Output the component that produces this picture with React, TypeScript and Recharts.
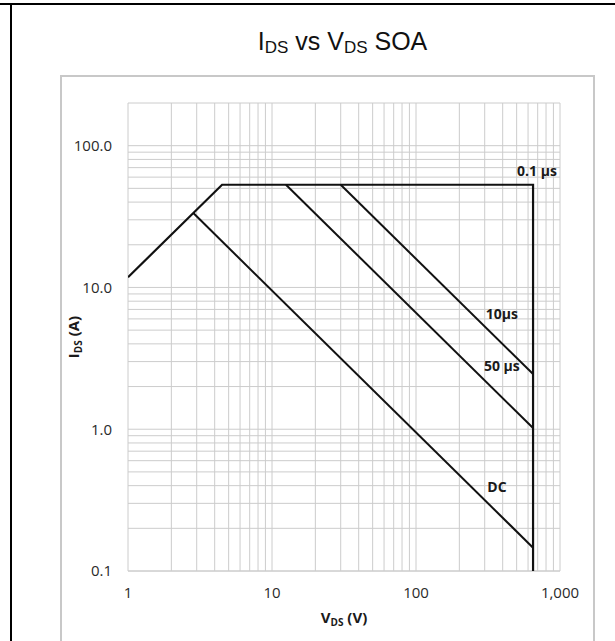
import { LineChart, Line, XAxis, YAxis, ReferenceLine, ReferenceDot, Label } from 'recharts';

// Safe operating area boundaries, (V, A) pairs on log–log axes
const limitV = [1, 4.5, 650, 650];
const limitI = [11.8, 53, 53, 0.1];
const pulse10V = [30, 650];
const pulse10I = [53, 2.45];
const pulse50V = [12.5, 650];
const pulse50I = [53, 1.02];
const dcV = [2.83, 650];
const dcI = [33.6, 0.146];

const xTicks = [1, 10, 100, 1000];
const yTicks = [0.1, 1, 10, 100];
const decadeSteps = [1, 2, 3, 4, 5, 6, 7, 8, 9];

// curve captions: text, V, A
const captions = [
  { text: '0.1 µs', v: 692, i: 66 },
  { text: '10µs', v: 395, i: 6.5 },
  { text: '50 µs', v: 395, i: 2.78 },
  { text: 'DC', v: 365, i: 0.39 },
];

const toPoints = (v: number[], i: number[]) => v.map((x, k) => ({ v: x, i: i[k] }));

const xGrid = [1, 10, 100].flatMap((d) => decadeSteps.map((s) => s * d));
const yGrid = [0.1, 1, 10].flatMap((d) => decadeSteps.map((s) => +(s * d).toFixed(2))).concat([100]);

const tickFont = { fill: '#2a2a2a', fontSize: 15, fontFamily: 'Open Sans' };
const gridColor = '#cccccc';
const curveColor = '#111';

function XTitle({ viewBox }: any) {
  const cx = viewBox.x + viewBox.width / 2;
  return (
    <text x={cx} y={623} textAnchor="middle" fontFamily="Open Sans" fontWeight="bold" fontSize={15} fill="#1a1a1a">
      V<tspan fontSize={10} dy={3}>DS</tspan>
      <tspan dy={-3}> (V)</tspan>
    </text>
  );
}

function YTitle({ viewBox }: any) {
  const cy = viewBox.y + viewBox.height / 2;
  return (
    <text
      x={79}
      y={cy}
      transform={`rotate(-90, 79, ${cy})`}
      textAnchor="middle"
      fontFamily="Open Sans"
      fontWeight="bold"
      fontSize={15}
      fill="#1a1a1a"
    >
      I<tspan fontSize={10} dy={3}>DS</tspan>
      <tspan dy={-3}> (A)</tspan>
    </text>
  );
}

export default function App() {
  return (
    <div style={{ position: 'absolute', left: 0, top: 0, width: 615, height: 641, background: '#fff', overflow: 'hidden' }}>
      {/* outer rules */}
      <div style={{ position: 'absolute', left: 0, top: 3, width: 615, height: 2, background: '#000' }} />
      <div style={{ position: 'absolute', left: 10, top: 3, width: 2, height: 638, background: '#000' }} />
      {/* plot frame */}
      <div
        style={{
          position: 'absolute',
          left: 60,
          top: 75,
          width: 531,
          height: 580,
          border: '2px solid #c8c8c8',
        }}
      />
      <div
        style={{
          position: 'absolute',
          left: 0,
          width: 685,
          top: 26,
          textAlign: 'center',
          fontFamily: 'Liberation Sans',
          fontSize: 25,
          lineHeight: '30px',
          color: '#111',
        }}
      >
        I<span style={{ fontSize: 17, lineHeight: 1, verticalAlign: -3 }}>DS</span> vs V
        <span style={{ fontSize: 17, lineHeight: 1, verticalAlign: -3 }}>DS</span> SOA
      </div>

      <div style={{ position: 'absolute', left: 0, top: 0 }}>
        <LineChart width={615} height={641} margin={{ top: 103, right: 55, bottom: 30, left: 68 }}>
          <XAxis
            type="number"
            dataKey="v"
            scale="log"
            domain={[1, 1000]}
            ticks={xTicks}
            allowDataOverflow
            axisLine={false}
            tickLine={false}
            tickSize={0}
            tickMargin={16}
            height={40}
            tick={tickFont}
            tickFormatter={(v: number) => v.toLocaleString('en-US')}
          >
            <Label content={<XTitle />} />
          </XAxis>
          <YAxis
            type="number"
            dataKey="i"
            scale="log"
            domain={[0.1, 200]}
            ticks={yTicks}
            allowDataOverflow
            axisLine={false}
            tickLine={false}
            tickSize={0}
            tickMargin={16}
            width={60}
            tick={tickFont}
            tickFormatter={(v: number) => v.toFixed(1)}
          >
            <Label content={<YTitle />} />
          </YAxis>

          {xGrid.map((x) => (
            <ReferenceLine key={'gx' + x} x={x} stroke={gridColor} strokeWidth={1} />
          ))}
          {yGrid.map((y) => (
            <ReferenceLine key={'gy' + y} y={y} stroke={gridColor} strokeWidth={1} />
          ))}
          <ReferenceLine x={1000} stroke={gridColor} />
          <ReferenceLine y={200} stroke={gridColor} />
          <ReferenceLine y={0.1} stroke={gridColor} />

          <Line data={toPoints(limitV, limitI)} dataKey="i" stroke={curveColor} strokeWidth={2.2} dot={false} isAnimationActive={false} />
          <Line data={toPoints(pulse10V, pulse10I)} dataKey="i" stroke={curveColor} strokeWidth={2} dot={false} isAnimationActive={false} />
          <Line data={toPoints(pulse50V, pulse50I)} dataKey="i" stroke={curveColor} strokeWidth={2} dot={false} isAnimationActive={false} />
          <Line data={toPoints(dcV, dcI)} dataKey="i" stroke={curveColor} strokeWidth={2} dot={false} isAnimationActive={false} />

          {captions.map((c) => (
            <ReferenceDot
              key={c.text}
              x={c.v}
              y={c.i}
              r={0}
              fill="none"
              stroke="none"
              label={{ value: c.text, position: 'center', fill: '#1a1a1a', fontSize: 14, fontWeight: 'bold', fontFamily: 'Open Sans' }}
            />
          ))}
        </LineChart>
      </div>
    </div>
  );
}
